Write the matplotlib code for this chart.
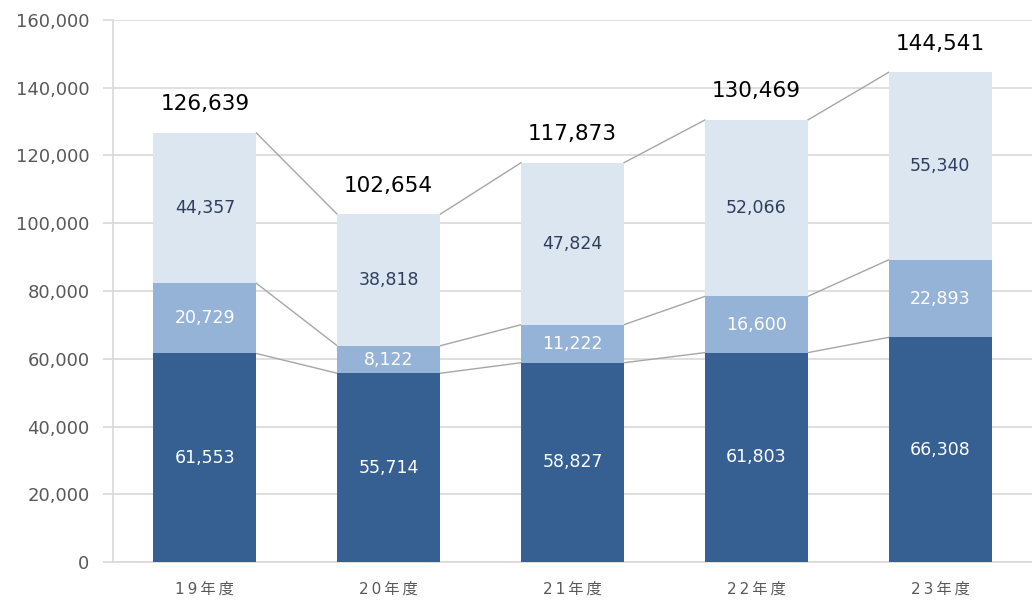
import numpy as np
import matplotlib.pyplot as plt

plt.rcParams['font.family'] = ['DejaVu Sans', 'Noto Sans CJK JP']

# data
years = ['19年度', '20年度', '21年度', '22年度', '23年度']
bottom_vals = [61553, 55714, 58827, 61803, 66308]
middle_vals = [20729, 8122, 11222, 16600, 22893]
top_vals = [44357, 38818, 47824, 52066, 55340]
totals = [126639, 102654, 117873, 130469, 144541]

colors = ['#366092', '#95B3D7', '#DCE6F1']
text_colors = ['white', 'white', '#2E3F5E']

fig = plt.figure(figsize=(10.32, 6), dpi=100)
ax = fig.add_axes([113 / 1032, 38 / 600, 1 - 113 / 1032, 542 / 600])

x = np.arange(len(years))
w = 0.56
series = [bottom_vals, middle_vals, top_vals]
base = np.zeros(len(years))
tops = []
for vals, c, tc in zip(series, colors, text_colors):
    vals = np.array(vals)
    ax.bar(x, vals, w, bottom=base, color=c, zorder=3)
    for xi, b, v in zip(x, base, vals):
        ax.text(xi, b + v / 2, f'{v:,}', ha='center', va='center',
                color=tc, fontsize=12.5, zorder=4)
    base = base + vals
    tops.append(base.copy())

# series lines between bars
for t in tops:
    for i in range(len(years) - 1):
        ax.plot([x[i] + w / 2, x[i + 1] - w / 2], [t[i], t[i + 1]],
                color='#A6A6A6', lw=1, zorder=2)

for xi, t in zip(x, totals):
    ax.text(xi, t + 5500, f'{t:,}', ha='center', va='bottom',
            color='black', fontsize=15.5, zorder=4)

ax.set_xlim(-0.5, 4.5)
ax.set_ylim(0, 160000)
ax.set_yticks(np.arange(0, 160001, 20000))
ax.set_yticklabels([f'{v:,}' for v in range(0, 160001, 20000)])
ax.set_xticks(x)
ax.set_xticklabels(['\u2009'.join(list(y)) for y in years])

ax.grid(axis='y', color='#D9D9D9', lw=1.2, zorder=0)
for s in ['top', 'right']:
    ax.spines[s].set_visible(False)
ax.spines['left'].set_color('#D9D9D9')
ax.spines['bottom'].set_color('#D9D9D9')
ax.spines['left'].set_linewidth(1.2)
ax.spines['bottom'].set_linewidth(1.2)
ax.tick_params(axis='y', length=7, color='#D9D9D9', width=1.2,
               labelsize=13, labelcolor='#595959', pad=10)
ax.tick_params(axis='x', length=0, labelsize=11, labelcolor='#595959', pad=14)

fig.savefig('out.png', dpi=100)
